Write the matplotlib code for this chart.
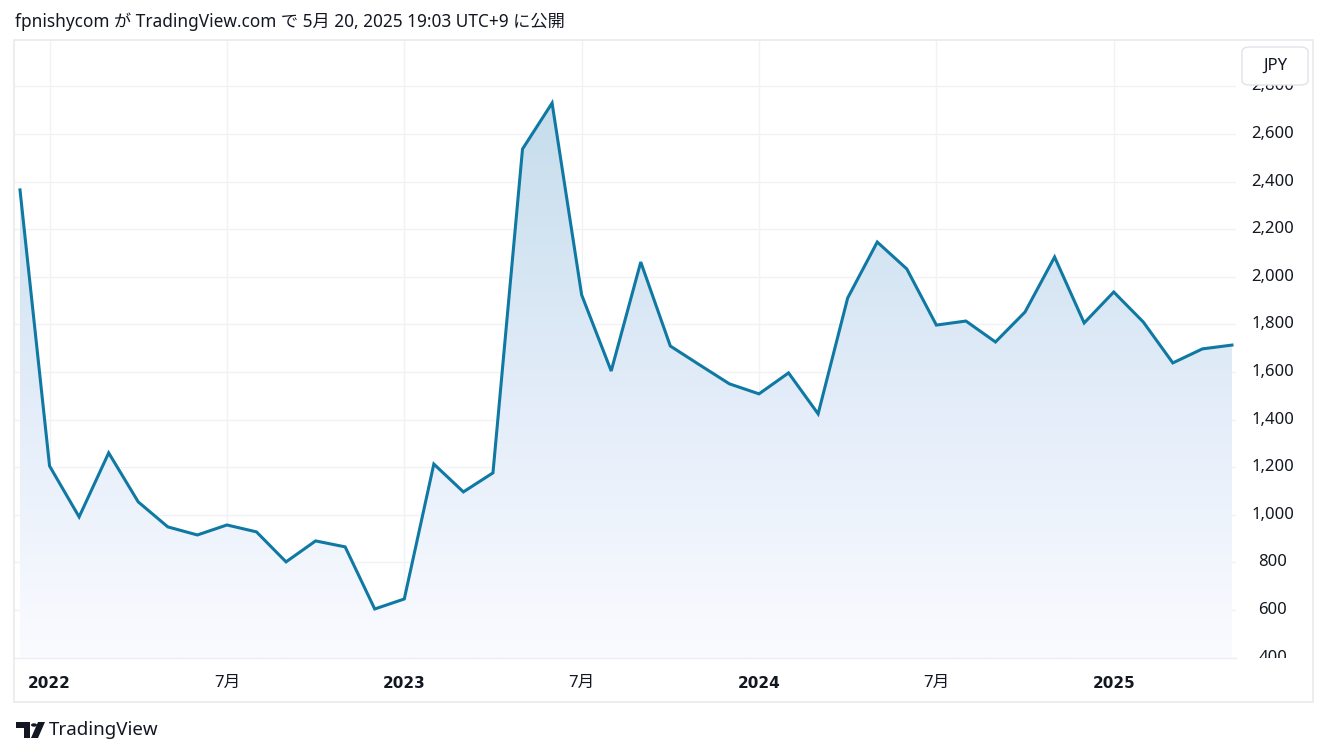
import numpy as np
import matplotlib.pyplot as plt
from matplotlib.colors import LinearSegmentedColormap
from matplotlib.patches import Rectangle, FancyBboxPatch, Polygon, Circle

plt.rcParams['font.family'] = ['Noto Sans', 'Noto Sans CJK JP', 'DejaVu Sans']

# monthly closes, Dec 2021 .. May 2025 (JPY)
prices = [2365, 1205, 991, 1260, 1054, 949, 915, 957, 928, 802, 890, 865,
          604, 646, 1213, 1096, 1176, 2537, 2730, 1924, 1604, 2062, 1709, 1629,
          1550, 1508, 1596, 1424, 1911, 2146, 2033, 1797, 1814, 1726, 1852, 2083,
          1806, 1936, 1810, 1638, 1697, 1713]
tick_idx = [1, 7, 13, 19, 25, 31, 37]
tick_labels = ["2022", "7月", "2023", "7月", "2024", "7月", "2025"]
tick_bold = [True, False, True, False, True, False, True]
yticks = [400, 600, 800, 1000, 1200, 1400, 1600, 1800, 2000, 2200, 2400, 2600, 2800]

W, H = 1329, 756
fig = plt.figure(figsize=(W / 100, H / 100), dpi=100)
fig.patch.set_facecolor('white')

def fx(px):
    return px / W

def fy(py):
    return 1 - py / H

# main pane: x 14..1236 px, y 40..658 px
ax = fig.add_axes([fx(14), fy(658), fx(1236 - 14), (658 - 40) / H])
x = np.arange(len(prices))
step = 29.56
ax.set_xlim((14 - 20) / step, (1236 - 20) / step)
ax.set_ylim(398, 2995)
ax.set_facecolor('white')
for s in ax.spines.values():
    s.set_visible(False)
ax.tick_params(left=False, bottom=False, labelleft=False, labelbottom=False)

grid_c = '#f0f2f5'
for v in yticks:
    ax.axhline(v, color=grid_c, lw=1, zorder=0)
for i in tick_idx:
    ax.axvline(i, color=grid_c, lw=1, zorder=0)

# gradient area fill
cmap = LinearSegmentedColormap.from_list(
    'tv', [(0.0, (198/255, 221/255, 236/255)),
           (0.55, (228/255, 237/255, 249/255)),
           (1.0, (250/255, 251/255, 255/255))])
grad = np.linspace(0, 1, 256).reshape(-1, 1)
top = max(prices)
im = ax.imshow(grad, cmap=cmap, aspect='auto',
               extent=[x[0], x[-1], 398, top], origin='upper', zorder=1)
clip = Polygon(np.column_stack([np.r_[x, x[-1], x[0]],
                                np.r_[prices, 398, 398]]),
               closed=True, transform=ax.transData, facecolor='none', edgecolor='none')
ax.add_patch(clip)
im.set_clip_path(clip)

ax.plot(x, prices, color='#0f79a3', lw=2.2, zorder=3, solid_joinstyle='miter')

# price scale pane
pax = fig.add_axes([fx(1236), fy(658), fx(1313 - 1236), (658 - 40) / H])
pax.set_xlim(0, 1)
pax.set_ylim(398, 2995)
pax.axis('off')
for v in yticks:
    pax.text(0.48, v, f"{v:,}", ha='center', va='center', fontsize=12,
             color='#131722', clip_on=True)

# currency box
box = FancyBboxPatch((fx(1242), fy(85)), fx(1308 - 1242), (85 - 47) / H,
                     boxstyle='round,pad=0,rounding_size=0.006',
                     transform=fig.transFigure, facecolor='white',
                     edgecolor='#e0e3eb', lw=1, zorder=10)
fig.patches.append(box)
fig.text(fx(1275), fy(66), "JPY", ha='center', va='center', fontsize=12,
         color='#131722', zorder=11)

# time axis labels
for i, lab, b in zip(tick_idx, tick_labels, tick_bold):
    px = 20 + i * step
    if b:
        fig.text(fx(px), fy(683), lab, ha='center', va='center', fontsize=11,
                 family='DejaVu Sans', fontweight='bold', color='#131722')
    else:
        fig.text(fx(px), fy(683), lab, ha='center', va='center', fontsize=12,
                 color='#131722')

# separator and outer frame
fig.add_artist(plt.Line2D([fx(14), fx(1236)], [fy(658), fy(658)],
                          color='#eceef2', lw=1))
fig.patches.append(Rectangle((fx(14), fy(702)), fx(1313 - 14), (702 - 40) / H,
                             transform=fig.transFigure, facecolor='none',
                             edgecolor='#e8eaee', lw=1.2, zorder=5))

# header
fig.text(fx(15), fy(22), "fpnishycom が TradingView.com で 5月 20, 2025 19:03 UTC+9 に公開",
         ha='left', va='center', fontsize=12.4, color='#131722')

# TradingView logo
logo_c = '#131722'
fig.patches.append(Polygon([(fx(16), fy(722)), (fx(30), fy(722)), (fx(30), fy(738)),
                            (fx(24), fy(738)), (fx(24), fy(728)), (fx(16), fy(728))],
                           closed=True, transform=fig.transFigure, facecolor=logo_c))
fig.patches.append(Circle((fx(34), fy(725)), 3 / W, transform=fig.transFigure,
                          facecolor=logo_c))
fig.patches.append(Polygon([(fx(38), fy(722)), (fx(45), fy(722)), (fx(38), fy(738)),
                            (fx(31), fy(738))],
                           closed=True, transform=fig.transFigure, facecolor=logo_c))
fig.text(fx(49), fy(730), "TradingView", ha='left', va='center', fontsize=13.5,
         color=logo_c)

fig.savefig('out.png', dpi=100)
